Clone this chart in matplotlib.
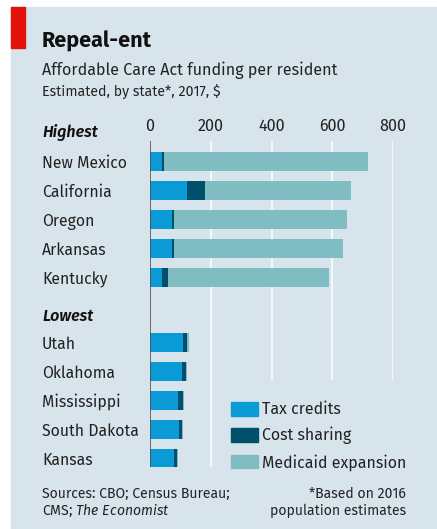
import matplotlib
matplotlib.use("Agg")
import matplotlib.pyplot as plt
import matplotlib.transforms as mtransforms
from matplotlib.patches import Rectangle
import numpy as np

plt.rcParams["font.family"] = ["Fira Sans", "DejaVu Sans"]
plt.rcParams["mathtext.fontset"] = "custom"
plt.rcParams["mathtext.rm"] = "Fira Sans"
plt.rcParams["mathtext.it"] = "Fira Sans:italic"

# data, $ per resident
states = ["New Mexico", "California", "Oregon", "Arkansas", "Kentucky",
          "Utah", "Oklahoma", "Mississippi", "South Dakota", "Kansas"]
tax_credits = [40, 122, 72, 72, 40, 108, 104, 92, 96, 79]
cost_sharing = [6, 59, 7, 7, 20, 15, 13, 16, 9, 9]
medicaid = [672, 481, 570, 556, 530, 4, 4, 3, 4, 3]
series_names = ["Tax credits", "Cost sharing", "Medicaid expansion"]
group_names = ["Highest", "Lowest"]
xticks = [0, 200, 400, 600, 800]

colors = ["#0a9bd6", "#01506b", "#7fbdc2"]
bg = "#d8e4eb"
ink = "#222222"

W, H = 437, 529
fig = plt.figure(figsize=(W / 100, H / 100), dpi=100, facecolor="white")

def fx(px):
    return px / W

def fy(py):
    return 1 - py / H

# background panel and red tag
fig.add_artist(Rectangle((fx(11), 0), 1 - fx(11), fy(7), transform=fig.transFigure,
                         color=bg, zorder=0))
fig.add_artist(Rectangle((fx(11), fy(48)), fx(25) - fx(11), fy(7) - fy(48),
                         transform=fig.transFigure, color="#e3120b", zorder=1))

fig.text(fx(42), fy(47.5), "Repeal-ent", fontsize=15.5, fontweight="bold",
         va="baseline", color="#111111")
fig.text(fx(42), fy(75), "Affordable Care Act funding per resident", fontsize=11.6,
         va="baseline", color=ink)
fig.text(fx(42), fy(95.5), "Estimated, by state*, 2017, $", fontsize=10.2,
         va="baseline", color=ink)

ax = fig.add_axes([fx(150), fy(467), fx(393) - fx(150), fy(141) - fy(467)])
ax.set_facecolor("none")
ypos = np.array([0, 1, 2, 3, 4, 6.24, 7.24, 8.24, 9.24, 10.24])
ax.set_xlim(0, 800)
ax.set_ylim(10.53, -0.707)

# gridlines: 200 runs full height, others stop above the legend
ax.vlines(200, -0.707, 10.53, color="white", lw=1.1, zorder=1)
ax.vlines([400, 600, 800], -0.707, 7.53, color="white", lw=1.1, zorder=1)

tc = np.array(tax_credits)
cs = np.array(cost_sharing)
md = np.array(medicaid)
h = 0.64
ax.barh(ypos, tc, height=h, color=colors[0], zorder=2)
ax.barh(ypos, cs, left=tc, height=h, color=colors[1], zorder=2)
ax.barh(ypos, md, left=tc + cs, height=h, color=colors[2], zorder=2)
ax.vlines(0, -0.707, 10.53, color="#4a4a4a", lw=1.1, zorder=3)

for s in ax.spines.values():
    s.set_visible(False)
ax.set_yticks([])
ax.xaxis.tick_top()
ax.set_xticks(xticks)
ax.set_xticklabels([str(t) for t in xticks])
ax.tick_params(axis="x", length=0, pad=4.5, labelsize=11.6, labelcolor=ink)

trans = mtransforms.blended_transform_factory(fig.transFigure, ax.transData)
for y, name in zip(ypos, states):
    ax.text(fx(42), y + 0.22, name, transform=trans, fontsize=11.4, va="baseline",
            color=ink, clip_on=False)
for y, name in zip([-1.06, 5.27], group_names):
    ax.text(fx(42), y + 0.22, name, transform=trans, fontsize=11.6, va="baseline",
            style="italic", fontweight="semibold", color="#111111", clip_on=False)

# legend
leg_y = [409, 435, 461.7]
for name, c, yc in zip(series_names, colors, leg_y):
    fig.add_artist(Rectangle((fx(231), fy(yc + 6.7)), fx(258) - fx(231), 13.4 / H,
                             transform=fig.transFigure, color=c, zorder=3))
    fig.text(fx(262), fy(yc + 5.5), name, fontsize=11.5, va="baseline", color=ink)

# footer
fig.text(fx(42), fy(498.5), "Sources: CBO; Census Bureau;", fontsize=10.1,
         va="baseline", color=ink)
fig.text(fx(42), fy(515), "CMS; $\\it{The\\ Economist}$", fontsize=10.1,
         va="baseline", color=ink)
fig.text(fx(406), fy(498.5), "*Based on 2016", fontsize=10.1, ha="right",
         va="baseline", color=ink)
fig.text(fx(406), fy(515), "population estimates", fontsize=10.1, ha="right",
         va="baseline", color=ink)

fig.savefig("out.png", dpi=100, facecolor="white")
